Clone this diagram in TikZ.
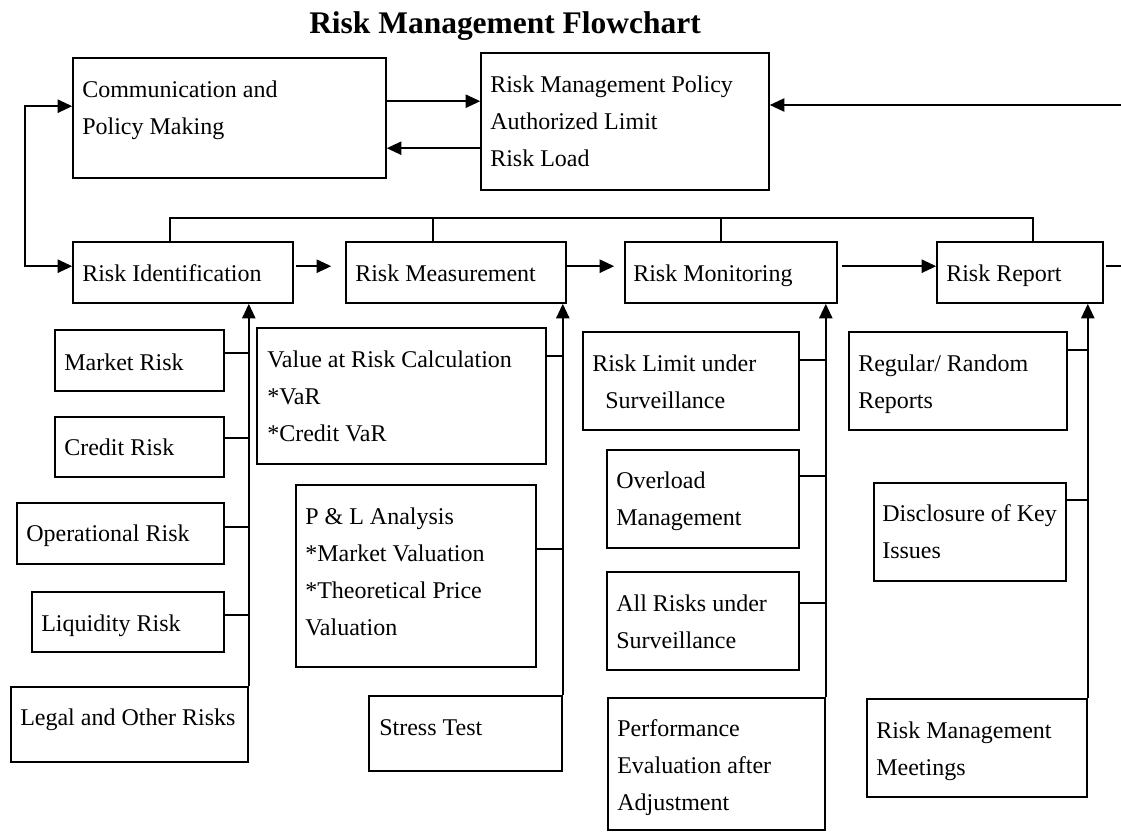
\documentclass[tikz,border=0pt]{standalone}
\usepackage{fontspec}
\setmainfont{Liberation Serif}
\usetikzlibrary{arrows.meta,fit,calc}
\newcommand\mytab[1]{\begin{tabular}[t]{@{}l@{}}#1\end{tabular}}
\begin{document}
\begin{tikzpicture}[x=0.75pt,y=-0.75pt,
  box/.style={draw,line width=1.2pt,inner sep=0pt},
  txt/.style={inner sep=0pt,anchor=base west,font=\fontsize{18}{27.75}\selectfont},
  ln/.style={line width=1.3pt},
  >={Triangle[length=11pt,width=10pt]}]
\useasboundingbox (0,0) rectangle (1121,832);
% title
\node[inner sep=0pt,anchor=base west,font=\fontsize{23.6}{28}\selectfont\bfseries] (title) at (309,33) {Risk Management Flowchart};
% boxes
\node[box,fit={(73,58) (386,178)}] (comm) {};
\node[box,fit={(481,53) (769,190)}] (rmp) {};
\node[box,fit={(73,242) (293,303)}] (ri) {};
\node[box,fit={(346,242) (566,303)}] (rmeas) {};
\node[box,fit={(625,242) (837,303)}] (rmon) {};
\node[box,fit={(937,242) (1103,303)}] (rrep) {};
\node[box,fit={(55,330) (224,391)}] (market) {};
\node[box,fit={(55,417) (224,477)}] (credit) {};
\node[box,fit={(17,503) (224,564)}] (oper) {};
\node[box,fit={(32,592) (224,652)}] (liq) {};
\node[box,fit={(11,687) (248,762)}] (legal) {};
\node[box,fit={(257,328) (546,464)}] (var) {};
\node[box,fit={(296,485) (536,667)}] (pl) {};
\node[box,fit={(369,696) (562,771)}] (stress) {};
\node[box,fit={(583,332) (799,430)}] (rlimit) {};
\node[box,fit={(607,450) (799,548)}] (overload) {};
\node[box,fit={(607,572) (799,670)}] (allrisks) {};
\node[box,fit={(608,698) (825,830)}] (perf) {};
\node[box,fit={(849,332) (1067,430)}] (regular) {};
\node[box,fit={(874,483) (1066,581)}] (disc) {};
\node[box,fit={(867,699) (1087,797)}] (rmm) {};
% texts
\node[txt] (comm-t) at (82,97) {\mytab{Communication and\\Policy Making}};
\node[txt] (rmp-t) at (490,92) {\mytab{Risk Management Policy\\Authorized Limit\\Risk Load}};
\node[txt] (ri-t) at (82,281) {Risk Identification};
\node[txt] (rmeas-t) at (355,281) {Risk Measurement};
\node[txt] (rmon-t) at (633,281) {Risk Monitoring};
\node[txt] (rrep-t) at (946,281) {Risk Report};
\node[txt] (market-t) at (64,370) {Market Risk};
\node[txt] (credit-t) at (64,455) {Credit Risk};
\node[txt] (oper-t) at (26,541) {Operational Risk};
\node[txt] (liq-t) at (41,631) {Liquidity Risk};
\node[txt] (legal-t) at (20,725) {Legal and Other Risks};
\node[txt] (var-t) at (267,367) {\mytab{Value at Risk Calculation\\{}*VaR\\{}*Credit VaR}};
\node[txt] (pl-t) at (305,524) {\mytab{P \& L Analysis\\{}*Market Valuation\\{}*Theoretical Price\\Valuation}};
\node[txt] (stress-t) at (379,735) {Stress Test};
\node[txt] (rlimit-t) at (592,371) {\mytab{Risk Limit under\\\hspace{9.75pt}Surveillance}};
\node[txt] (overload-t) at (616,488) {\mytab{Overload\\Management}};
\node[txt] (allrisks-t) at (616,611) {\mytab{All Risks under\\Surveillance}};
\node[txt] (perf-t) at (617,736) {\mytab{Performance\\Evaluation after\\Adjustment}};
\node[txt] (regular-t) at (858,371) {\mytab{Regular/ Random\\Reports}};
\node[txt] (disc-t) at (882,521) {\mytab{Disclosure of Key\\Issues}};
\node[txt] (rmm-t) at (876,738) {\mytab{Risk Management\\Meetings}};
% top connectors
\coordinate (lpx) at (25,0);
\coordinate (cl) at ($(comm.north west)+(0,49)$);
\coordinate (rl) at ($(ri.north west)+(0,25)$);
\draw[ln,<->] (cl) -| (lpx |- rl) -- (rl);
\draw[ln,->] ($(comm.north east)+(0,44)$) coordinate (a1) -- (a1 -| rmp.west);
\draw[ln,->] ($(rmp.north west)+(0,96)$) coordinate (a2) -- (a2 -| comm.east);
\coordinate (redge) at (1121,105);
\draw[ln,->] (redge) -- (redge -| rmp.east);
% bus
\coordinate (b1) at (170,218);
\coordinate (b2) at (433,218);
\coordinate (b3) at (721,218);
\coordinate (b4) at (1033,218);
\draw[ln] (b1 |- ri.north) -- (b1) -- (b4) -- (b4 |- rrep.north);
\draw[ln] (b2) -- (b2 |- rmeas.north);
\draw[ln] (b3) -- (b3 |- rmon.north);
% process arrows
\draw[ln,->] ($(ri.north east)+(2,25)$) -- ($(rmeas.north west)+(-14,25)$);
\draw[ln,->] ($(rmeas.north east)+(0,25)$) -- ($(rmon.north west)+(-10,25)$);
\draw[ln,->] ($(rmon.north east)+(4,25)$) -- ($(rrep.north west)+(0,25)$);
\coordinate (redge2) at (1121,267);
\draw[ln] ($(rrep.north east)+(2,25)$) coordinate (a3) -- (a3 -| redge2);
% vertical feeders
\draw[ln,->] (legal.north east) -- (legal.north east |- ri.south);
\draw[ln,->] (stress.north east) -- (stress.north east |- rmeas.south);
\draw[ln,->] (perf.north east) -- (perf.north east |- rmon.south);
\draw[ln,->] (rmm.north east) -- (rmm.north east |- rrep.south);
% side connectors
\draw[ln] ($(market.north east)+(0,24)$) coordinate (c1) -- (c1 -| legal.north east);
\draw[ln] ($(credit.north east)+(0,22)$) coordinate (c2) -- (c2 -| legal.north east);
\draw[ln] ($(oper.north east)+(0,25)$) coordinate (c3) -- (c3 -| legal.north east);
\draw[ln] ($(liq.north east)+(0,24)$) coordinate (c4) -- (c4 -| legal.north east);
\draw[ln] ($(var.north east)+(0,29)$) coordinate (c5) -- (c5 -| stress.north east);
\draw[ln] ($(pl.north east)+(0,65)$) coordinate (c6) -- (c6 -| stress.north east);
\draw[ln] ($(rlimit.north east)+(0,29)$) coordinate (c7) -- (c7 -| perf.north east);
\draw[ln] ($(overload.north east)+(0,27)$) coordinate (c8) -- (c8 -| perf.north east);
\draw[ln] ($(allrisks.north east)+(0,32)$) coordinate (c9) -- (c9 -| perf.north east);
\draw[ln] ($(regular.north east)+(0,19)$) coordinate (c10) -- (c10 -| rmm.north east);
\draw[ln] ($(disc.north east)+(0,18)$) coordinate (c11) -- (c11 -| rmm.north east);
\end{tikzpicture}
\end{document}
